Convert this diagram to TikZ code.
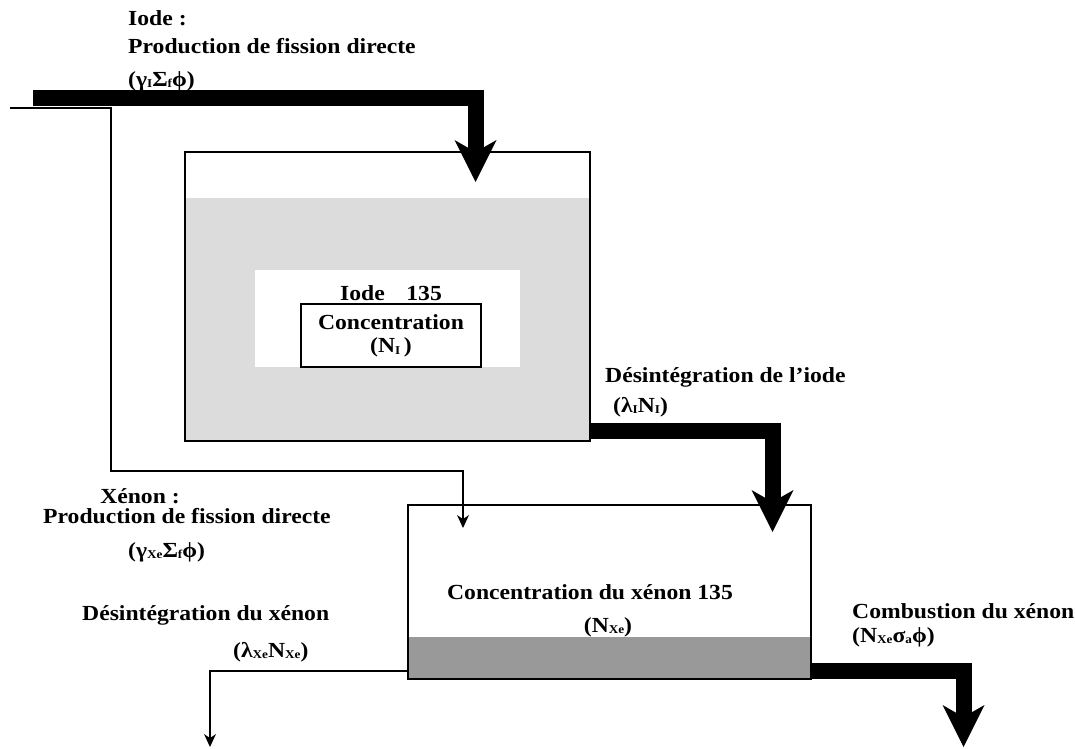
\documentclass[tikz,border=0pt]{standalone}
\usepackage{fontspec}
\setmainfont{Liberation Serif}[FakeStretch=1.1]
\usetikzlibrary{arrows.meta,calc,positioning,backgrounds}
\definecolor{iodegrey}{HTML}{DCDCDC}
\definecolor{xenongrey}{HTML}{999999}
% small index set low, next to the symbol
\newcommand{\lowtxt}[1]{\raisebox{-0.2ex}{\fontsize{12}{12}\selectfont #1}}
\tikzset{tank/.style={draw,line width=1.5pt,inner sep=0pt},
  concbox/.style={draw,line width=2pt,inner sep=0pt,align=center},
  lbl/.style={anchor=base west,inner sep=0pt},
  clbl/.style={anchor=base,inner sep=0pt},
  fatflow/.style={line width=16pt,line join=miter,-{Stealth[length=42pt,width=42pt,inset=12pt,line width=0pt]}},
  thinflow/.style={line width=1.8pt,-{Stealth[length=13pt,width=12pt,inset=4pt,line width=0pt]}}}

\begin{document}
\begin{tikzpicture}[x=1pt,y=-1pt,font=\fontsize{21.5}{25}\selectfont\bfseries]
\useasboundingbox (0,0) rectangle (1075,748);
% the two tanks
\node[tank,minimum width=405pt,minimum height=289pt] (iodeTank) at (387.5,296.5) {};
\node[tank,minimum width=403pt,minimum height=174pt] (xenonTank) at (609.5,592) {};
\begin{scope}[on background layer]
  \fill[iodegrey] ($(iodeTank.south west)+(0,-244)$) rectangle (iodeTank.south east);
  \fill[xenongrey] ($(xenonTank.south west)+(0,-43)$) rectangle (xenonTank.south east);
\end{scope}
\fill[white] (255,270) rectangle (520,367);
\node[concbox,minimum width=180pt,minimum height=63pt,font=\fontsize{21.5}{23}\selectfont\bfseries] (iodeConc) at (391,335.5) {Concentration\\(N\lowtxt{I}\,)};
\node[clbl,above=2pt of iodeConc] (iodeName) {Iode\quad 135};

% ends of the flows
\coordinate (feedI) at (33,98);
\coordinate (feedXe) at (10,108);
\coordinate (bendXe) at (111,471);
\coordinate (dropI) at (475.5,182);
\coordinate (dropXe) at (463,528);
\coordinate (dropDecay) at (772.5,532);
\coordinate (sinkDecay) at (210,747);
\coordinate (sinkBurn) at (963.5,747);

\draw[thinflow] (feedXe) -| (bendXe) -| (dropXe);
\draw[fatflow] (feedI) -| (dropI);
\draw[fatflow] ($(iodeTank.south east)+(0,-11)$) -| (dropDecay);
\draw[thinflow] ($(xenonTank.south west)+(0,-9)$) -| (sinkDecay);
\draw[fatflow] ($(xenonTank.south east)+(0,-8.5)$) -| (sinkBurn);

% labels
\node[lbl] (iodeHead) at (128,25) {Iode :};
\node[lbl] (iodeProd) at (128,53) {Production de fission directe};
\node[lbl] (iodeRate) at (128,86) {(γ\lowtxt{I}Σ\lowtxt{f}ϕ)};
\node[lbl] (decayI) at (605,382) {Désintégration de l’iode};
\node[lbl] (decayIRate) at (613,412) {(λ\lowtxt{I}N\lowtxt{I})};
\node[clbl] (xenonHead) at (140,503) {Xénon :};
\node[lbl] (xenonProd) at (43,523) {Production de fission directe};
\node[lbl] (xenonRate) at (128,557) {(γ\lowtxt{Xe}Σ\lowtxt{f}ϕ)};
\node[lbl] (decayXe) at (82,620) {Désintégration du xénon};
\node[lbl] (decayXeRate) at (233,657) {(λ\lowtxt{Xe}N\lowtxt{Xe})};
\node[clbl] (xenonConc) at (590,599) {Concentration du xénon 135};
\node[clbl] (xenonConcSym) at (608,632) {(N\lowtxt{Xe})};
\node[lbl] (burnXe) at (852,618) {Combustion du xénon};
\node[lbl] (burnXeRate) at (852,642) {(N\lowtxt{Xe}σ\lowtxt{a}ϕ)};
\end{tikzpicture}
\end{document}
